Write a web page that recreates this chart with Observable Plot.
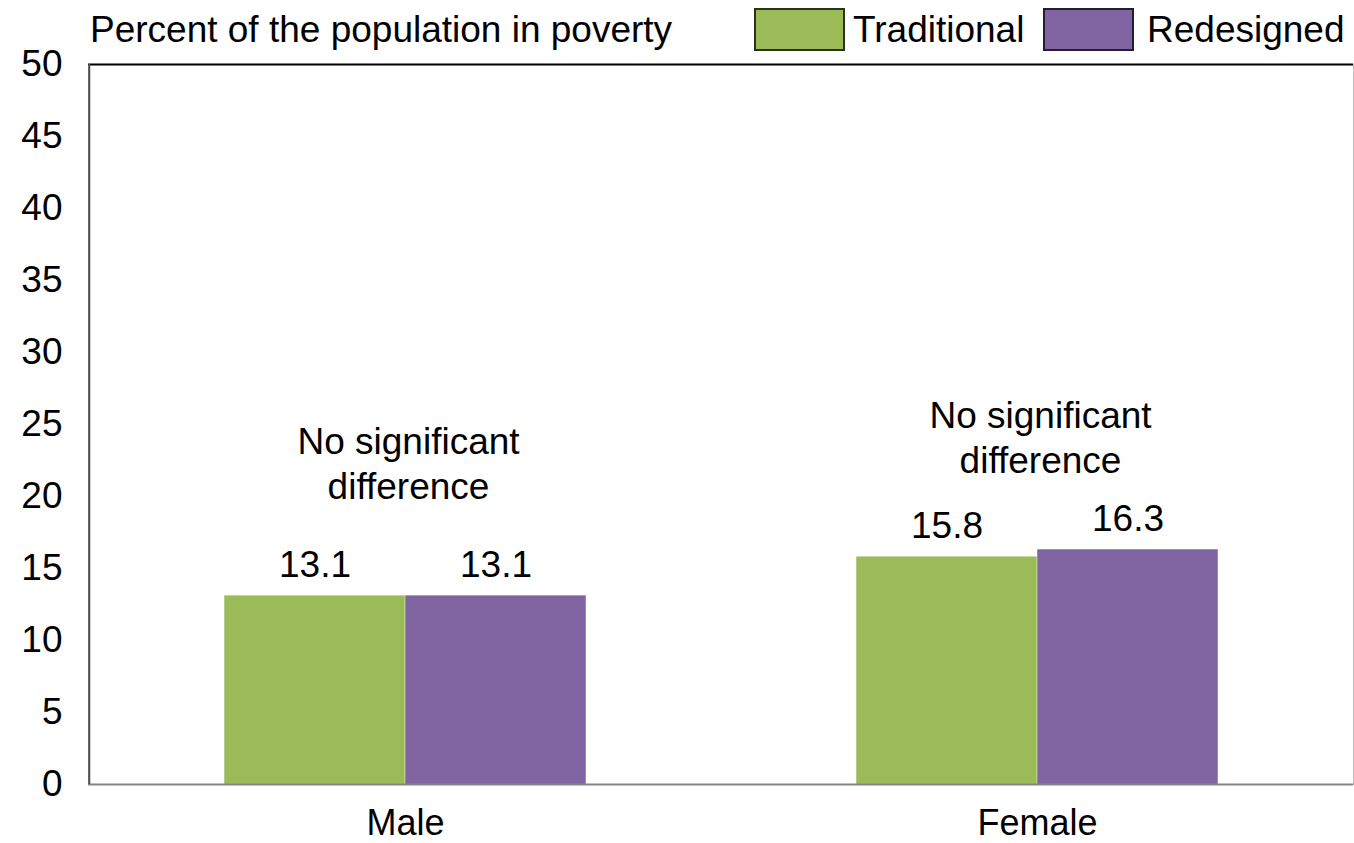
<!DOCTYPE html>
<html>
<head>
<meta charset="utf-8">
<script src="https://cdn.jsdelivr.net/npm/d3@7"></script>
<script src="https://cdn.jsdelivr.net/npm/@observablehq/plot@0.6"></script>
<style>
  body { margin: 0; background: #fff; font-family: "Liberation Sans", Arial, sans-serif; color: #000; }
  #wrap { position: relative; width: 1354px; height: 843px; }
  #header { position: relative; height: 50px; font-size: 37px; }
  #header .title { position: absolute; left: 90px; top: 8px; line-height: 44px; white-space: nowrap; }
  #header .swatch { position: absolute; top: 8px; width: 91px; height: 43px; box-sizing: border-box; border: 2px solid; }
  #header .lab { position: absolute; top: 8px; line-height: 44px; white-space: nowrap; }
  svg { overflow: visible; }
</style>
</head>
<body>
<div id="wrap">
  <div id="header"></div>
  <div id="chart"></div>
</div>
<script>
// Poverty rate by sex, traditional vs redesigned measure
const groups = ["Male", "Female"];
const series = ["Traditional", "Redesigned"];
const traditional = [13.1, 15.8];
const redesigned = [13.1, 16.3];
const yTicks = [0, 5, 10, 15, 20, 25, 30, 35, 40, 45, 50];
const noteText = "No significant\ndifference";
const noteLevel = [22.4, 24.2];
const titleText = "Percent of the population in poverty";

const colors = ["#9bbb59", "#8064a2"];
const swatchBorders = ["#27331a", "#241c31"];

const rows = [];
groups.forEach((g, i) => {
  rows.push({group: g, series: series[0], value: traditional[i]});
  rows.push({group: g, series: series[1], value: redesigned[i]});
});
const notes = groups.map((g, i) => ({group: g, level: noteLevel[i]}));

// Header: title and legend
const header = document.getElementById("header");
const title = document.createElement("div");
title.className = "title";
title.textContent = titleText;
header.appendChild(title);
const legendPos = [[754, 853], [1043, 1147]];
series.forEach((s, i) => {
  const sw = document.createElement("div");
  sw.className = "swatch";
  sw.style.left = legendPos[i][0] + "px";
  sw.style.background = colors[i];
  sw.style.borderColor = swatchBorders[i];
  header.appendChild(sw);
  const lab = document.createElement("div");
  lab.className = "lab";
  lab.style.left = legendPos[i][1] + "px";
  lab.textContent = s;
  header.appendChild(lab);
});

const width = 1354, height = 793;
const marginLeft = 88, marginRight = 1, marginTop = 14, marginBottom = 59;
const bandW = (width - marginLeft - marginRight) / groups.length;
const barW = 181;
const fontSize = 37;

const chart = Plot.plot({
  width, height, marginLeft, marginRight, marginTop, marginBottom,
  style: {fontFamily: '"Liberation Sans", Arial, sans-serif', fontSize: fontSize + "px", color: "#000", background: "transparent"},
  x: {domain: groups, padding: 0, axis: null},
  y: {domain: [0, 50], axis: null},
  color: {domain: series, range: colors},
  marks: [
    Plot.frame({stroke: "#bfbfbf"}),
    Plot.barY(rows.filter(d => d.series === series[0]), {
      x: "group", y: "value", fill: colors[0],
      insetLeft: bandW / 2 - barW, insetRight: bandW / 2
    }),
    Plot.barY(rows.filter(d => d.series === series[1]), {
      x: "group", y: "value", fill: colors[1],
      insetLeft: bandW / 2, insetRight: bandW / 2 - barW
    }),
    Plot.text(rows.filter(d => d.series === series[0]), {
      x: "group", y: "value", text: d => d.value.toFixed(1),
      dx: -barW / 2, dy: -31, lineAnchor: "middle", fontSize
    }),
    Plot.text(rows.filter(d => d.series === series[1]), {
      x: "group", y: "value", text: d => d.value.toFixed(1),
      dx: barW / 2, dy: -31, lineAnchor: "middle", fontSize
    }),
    Plot.text(notes, {
      x: "group", y: "level", text: () => noteText,
      dx: 3, lineAnchor: "middle", lineHeight: 1.22, fontSize
    }),
    Plot.ruleY([0], {stroke: "#868686", strokeWidth: 2}),
    Plot.ruleY([50], {stroke: "#000", strokeWidth: 2}),
    Plot.ruleX(groups.slice(0, 1), {x: d => d, dx: -bandW / 2, stroke: "#4d4d4d", strokeWidth: 2}),
    Plot.axisY({ticks: yTicks, tickSize: 0, tickPadding: 26, fontSize}),
    Plot.axisX({tickSize: 0, tickPadding: 25, label: null, fontSize: 36})
  ]
});
document.getElementById("chart").appendChild(chart);
</script>
</body>
</html>
